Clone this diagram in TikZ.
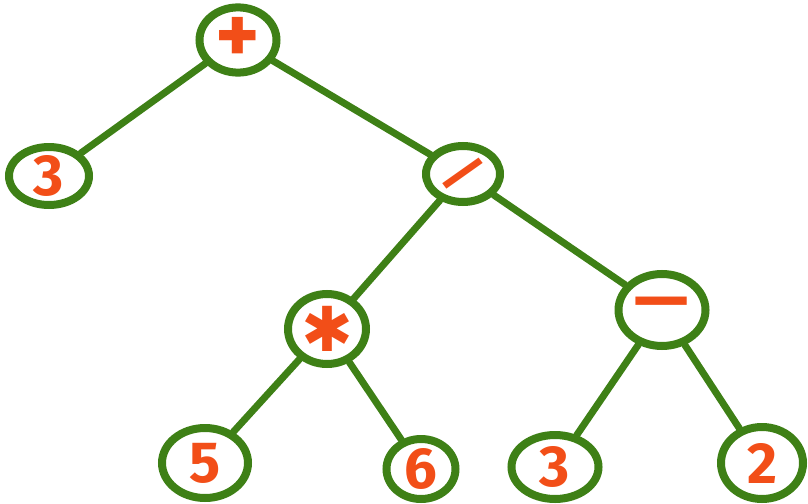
\documentclass[tikz,border=0pt]{standalone}
\usepackage{fontspec}
\setmainfont{Fira Sans}
\newfontfamily\symfont{DejaVu Sans}
\usepackage{graphicx}
\usetikzlibrary{shapes.geometric, positioning}
\definecolor{treegreen}{RGB}{62,128,22}
\definecolor{markorange}{RGB}{242,78,24}
\tikzstyle{term} = [ellipse, draw=treegreen, line width=8pt, inner sep=0pt, text=markorange, font=\fontsize{58}{58}\selectfont\bfseries]
\tikzstyle{branch} = [draw=treegreen, line width=7pt, line cap=round]

\begin{document}
\begin{tikzpicture}[x=1pt, y=-1pt]
		\useasboundingbox (0,0) rectangle (808,503);
		\node (Plus) [term, minimum width=77pt, minimum height=64pt, font=\fontsize{84}{84}\selectfont\bfseries] at (238,40) {+};
		\node (ThreeLeft) [term, minimum width=80pt, minimum height=54pt] at (49,176) {3};
		\node (Div) [term, inner sep=-20pt, minimum width=74pt, minimum height=56pt, font=\fontsize{48}{48}\selectfont\bfseries] at (463,174) {\rotatebox{-40}{/}};
		\node (Times) [term, minimum width=78pt, minimum height=70pt, font=\fontsize{62}{62}\selectfont\symfont] at (327,329) {✱};
		\node (Minus) [term, minimum width=87pt, minimum height=72pt, font=\fontsize{68}{68}\selectfont\bfseries] at (662,310) {—};
		\node (Five) [term, minimum width=86pt, minimum height=70pt] at (205,463) {5};
		\node (Six) [term, minimum width=69pt, minimum height=60pt] at (421,469) {6};
		\node (ThreeRight) [term, minimum width=87pt, minimum height=64pt] at (555,467) {3};
		\node (Two) [term, minimum width=82pt, minimum height=72pt] at (762,463) {2};
		\draw [branch] (Plus) -- (ThreeLeft);
		\draw [branch] (Plus) -- (Div);
		\draw [branch] (Div) -- (Times);
		\draw [branch] (Div) -- (Minus);
		\draw [branch] (Times) -- (Five);
		\draw [branch] (Times) -- (Six);
		\draw [branch] (Minus) -- (ThreeRight);
		\draw [branch] (Minus) -- (Two);
\end{tikzpicture}
\end{document}
